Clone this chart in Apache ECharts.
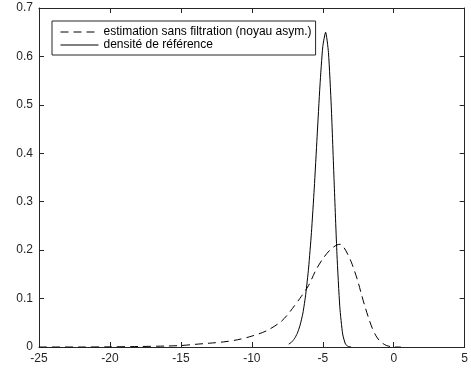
<!DOCTYPE html>
<html>
<head>
<meta charset="utf-8">
<script src="https://cdn.jsdelivr.net/npm/echarts@6/dist/echarts.min.js"></script>
<style>
html,body{margin:0;padding:0;background:#fff;}
#chart{width:471px;height:370px;}
</style>
</head>
<body>
<div id="chart"></div>
<script>
// Reference density (solid)
var solidX = [-7.4, -7.2, -7.0, -6.8, -6.6, -6.4, -6.2, -6.0, -5.8, -5.6, -5.4, -5.2, -5.0, -4.8, -4.6, -4.4, -4.2, -4.0, -3.8, -3.6, -3.4, -3.2, -3.0];
var solidY = [0.006, 0.010, 0.017, 0.028, 0.045, 0.070, 0.109, 0.163, 0.236, 0.328, 0.434, 0.539, 0.620, 0.650, 0.608, 0.496, 0.341, 0.191, 0.083, 0.027, 0.006, 0.001, 0];

// Estimation without filtering (dashed)
var dashX = [-25, -22, -20, -18, -16, -15, -14, -13, -12, -11, -10, -9, -8, -7.5, -7, -6.5, -6, -5.5, -5, -4.5, -4, -3.75, -3.5, -3.25, -3, -2.75, -2.5, -2.25, -2, -1.75, -1.5, -1.25, -1, -0.75, -0.5, -0.25, 0, 0.5];
var dashY = [0, 0, 0.0003, 0.001, 0.002, 0.003, 0.0055, 0.0078, 0.0105, 0.015, 0.0225, 0.033, 0.051, 0.066, 0.085, 0.105, 0.127, 0.158, 0.182, 0.200, 0.211, 0.212, 0.205, 0.192, 0.176, 0.156, 0.133, 0.106, 0.081, 0.058, 0.038, 0.023, 0.013, 0.007, 0.003, 0.001, 0, 0];

var seriesNames = ['estimation sans filtration (noyau asym.)', 'densité de référence'];

function pairs(xs, ys) { return xs.map(function (x, i) { return [x, ys[i]]; }); }

var FONT = '"Liberation Sans", Arial, Helvetica, sans-serif';
var AX = '#262626';

function axisCommon(extra) {
  var base = {
    type: 'value',
    axisLine: { show: true, onZero: false, lineStyle: { color: AX, width: 1 } },
    axisTick: { show: true, inside: true, length: 5, lineStyle: { color: AX, width: 1 } },
    splitLine: { show: false },
    axisLabel: { color: AX, fontSize: 12, fontFamily: FONT, margin: 6 }
  };
  for (var k in extra) base[k] = extra[k];
  return base;
}

var chart = echarts.init(document.getElementById('chart'), null, { renderer: 'canvas' });
chart.setOption({
  animation: false,
  backgroundColor: '#ffffff',
  grid: { left: 39, right: 4, top: 8, bottom: 23, containLabel: false },
  xAxis: [
    axisCommon({ min: -25, max: 5, interval: 5, position: 'bottom' }),
    axisCommon({ min: -25, max: 5, interval: 5, position: 'top', axisLabel: { show: false } })
  ],
  yAxis: [
    axisCommon({ min: 0, max: 0.7, interval: 0.1, position: 'left' }),
    axisCommon({ min: 0, max: 0.7, interval: 0.1, position: 'right', axisLabel: { show: false } })
  ],
  legend: {
    orient: 'vertical',
    left: 52,
    top: 21,
    padding: [5, 4, 4, 8],
    itemGap: 1,
    itemWidth: 38,
    itemHeight: 10,
    itemTextGap: 4,
    borderColor: AX,
    borderWidth: 1,
    backgroundColor: '#ffffff',
    itemStyle: { opacity: 0 },
    lineStyle: { width: 1 },
    textStyle: { color: '#000', fontSize: 12, fontFamily: FONT, lineHeight: 12 },
    data: seriesNames
  },
  series: [
    {
      name: seriesNames[0],
      type: 'line',
      xAxisIndex: 0, yAxisIndex: 0,
      data: pairs(dashX, dashY),
      showSymbol: false, symbol: 'none',
      smooth: 0.3,
      lineStyle: { color: '#000', width: 1, type: [8, 5] },
      itemStyle: { color: '#000' }
    },
    {
      name: seriesNames[1],
      type: 'line',
      xAxisIndex: 0, yAxisIndex: 0,
      data: pairs(solidX, solidY),
      showSymbol: false, symbol: 'none',
      smooth: 0.2,
      lineStyle: { color: '#000', width: 1, type: 'solid' },
      itemStyle: { color: '#000' }
    }
  ]
});
</script>
</body>
</html>
